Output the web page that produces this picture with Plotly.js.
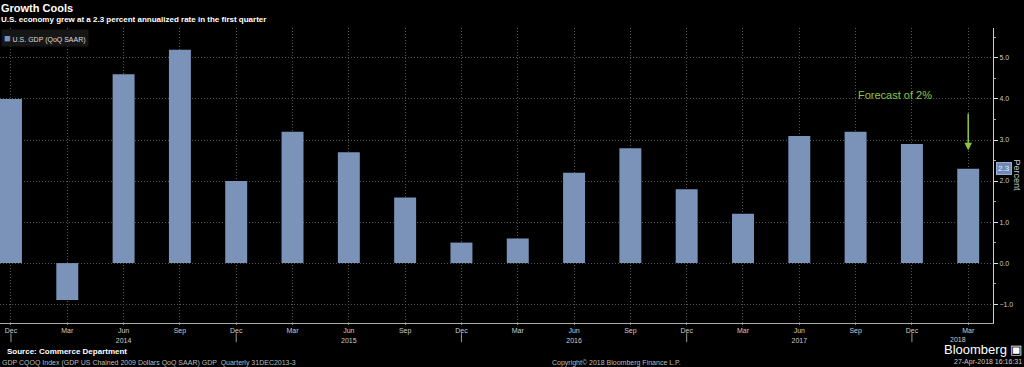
<!DOCTYPE html>
<html><head><meta charset="utf-8">
<script src="https://cdn.plot.ly/plotly-3.0.1.min.js"></script>
<style>html,body{margin:0;padding:0;background:#000;}#c{width:1024px;height:367px;}</style>
</head><body><div id="c"></div>
<script>
const quarters = ["Dec","Mar","Jun","Sep","Dec","Mar","Jun","Sep","Dec","Mar","Jun","Sep","Dec","Mar","Jun","Sep","Dec","Mar"];
const years = ["","","2014","","","","2015","","","","2016","","","","2017","","",""];
const gdp = [4.0,-0.9,4.6,5.2,2.0,3.2,2.7,1.6,0.5,0.6,2.2,2.8,1.8,1.2,3.1,3.2,2.9,2.3];
const lastValue = 2.3;
const seriesName = "U.S. GDP (QoQ SAAR)";
const forecast = "Forecast of 2%";

const idx = quarters.map((q,i)=>i);
const ticktext = quarters.map((q,i)=> years[i] ? q + "<br>" + years[i] : q);
const FONT = "Liberation Sans, Arial, sans-serif";
const BAR = "#7b93b9";

const shapes = [];
quarters.forEach((q,i)=>{
  if(q==="Dec"){
    shapes.push({type:"line", xref:"x", yref:"paper", x0:i, x1:i, y0:-0.035, y1:-0.065,
      line:{color:"#9a9a9a", width:1}});
  }
});

const annotations = [
  {xref:"paper", yref:"paper", x:0, y:1, xanchor:"left", yanchor:"middle", yshift:20, xshift:-1,
   text:"<b>Growth Cools</b>", showarrow:false, font:{family:FONT, size:11, color:"#fff"}},
  {xref:"paper", yref:"paper", x:0, y:1, xanchor:"left", yanchor:"middle", yshift:9, xshift:-1,
   text:"<b>U.S. economy grew at a 2.3 percent annualized rate in the first quarter</b>", showarrow:false, font:{family:FONT, size:8, color:"#fff"}},
  {xref:"paper", yref:"paper", x:0, y:1, xanchor:"left", yanchor:"top", xshift:1, yshift:-1,
   text:"<span style='color:"+BAR+";font-size:11px'>\u25A0</span> " + seriesName, showarrow:false, bgcolor:"#161616", borderpad:2,
   font:{family:FONT, size:7, color:"#ddd"}},
  {xref:"x", yref:"paper", x:quarters.length-1, y:0, xanchor:"right", yanchor:"top", yshift:-11, xshift:0,
   text:"2018", showarrow:false, font:{family:FONT, size:7, color:"#ccc"}},
  {xref:"paper", yref:"y", x:1, y:lastValue, xanchor:"left", yanchor:"middle", xshift:3,
   text:"2.3", showarrow:false, bgcolor:"#6f8bb8", bordercolor:"#9ab0d3", borderwidth:1, borderpad:1,
   font:{family:FONT, size:8, color:"#e6edf8"}},
  {xref:"paper", yref:"paper", x:1, y:0.5, xanchor:"left", yanchor:"middle", xshift:17,
   text:"Percent", textangle:90, showarrow:false, font:{family:FONT, size:9, color:"#ccc"}},
  {xref:"x", yref:"y", x:15.7, y:4.1, text:forecast, showarrow:false,
   font:{family:FONT, size:11, color:"#8cc63f"}},
  {xref:"x", yref:"y", axref:"x", ayref:"y", x:quarters.length-1, y:2.75, ax:quarters.length-1, ay:3.68,
   text:"", showarrow:true, arrowhead:2, arrowsize:1, arrowwidth:1.5, arrowcolor:"#8cc63f"},
  {xref:"paper", yref:"paper", x:0, y:0, xanchor:"left", yanchor:"top", yshift:-22, xshift:5,
   text:"<b>Source: Commerce Department</b>", showarrow:false, font:{family:FONT, size:8, color:"#fff"}},
  {xref:"paper", yref:"paper", x:0, y:0, xanchor:"left", yanchor:"top", yshift:-34, xshift:0,
   text:"GDP CQOQ Index (GDP US Chained 2009 Dollars QoQ SAAR) GDP  Quarterly 31DEC2013-3", showarrow:false, font:{family:FONT, size:7, color:"#bbb"}},
  {xref:"paper", yref:"paper", x:0.621, y:0, xanchor:"center", yanchor:"top", yshift:-34,
   text:"Copyright\u00a9 2018 Bloomberg Finance L.P.", showarrow:false, font:{family:FONT, size:7, color:"#bbb"}},
  {xref:"paper", yref:"paper", x:1.031, y:0, xanchor:"right", yanchor:"top", yshift:-17,
   text:"Bloomberg \u25A3", showarrow:false, font:{family:FONT, size:13, color:"#fff"}},
  {xref:"paper", yref:"paper", x:1.031, y:0, xanchor:"right", yanchor:"top", yshift:-33,
   text:"27-Apr-2018 16:16:31", showarrow:false, font:{family:FONT, size:7, color:"#ccc"}}
];

const trace = {
  type:"bar", x:idx, y:gdp, name:seriesName, width:0.39,
  marker:{color:BAR, line:{width:0}}, hoverinfo:"skip"
};

const layout = {
  width:1024, height:367,
  paper_bgcolor:"#000", plot_bgcolor:"#000",
  margin:{l:0, r:31, t:28, b:44},
  showlegend:false,
  xaxis:{range:[-0.195, 17.44], tickvals:idx, ticktext:ticktext, tickangle:0,
    tickfont:{family:FONT, size:7, color:"#ccc"}, showgrid:true, gridcolor:"#555", griddash:"1px,2px", gridwidth:1,
    zeroline:false, showline:true, linecolor:"#aaa", linewidth:1, ticks:"outside", ticklen:1, tickcolor:"#888"},
  yaxis:{side:"right", range:[-1.46, 5.73], tickvals:[-1,0,1,2,3,4,5], tickformat:".1f",
    tickfont:{family:FONT, size:7, color:"#ccc"}, showgrid:true, gridcolor:"#555", griddash:"1px,2px", gridwidth:1,
    zeroline:false, showline:true, linecolor:"#ccc", linewidth:1, ticks:"outside", ticklen:4, tickcolor:"#ddd",
    minor:{tickvals:[-0.5,0.5,1.5,2.5,3.5,4.5,5.5], ticks:"outside", ticklen:2, tickcolor:"#aaa", showgrid:false}},
  shapes:shapes,
  annotations:annotations
};

Plotly.newPlot("c", [trace], layout, {displayModeBar:false, staticPlot:true});
</script></body></html>
